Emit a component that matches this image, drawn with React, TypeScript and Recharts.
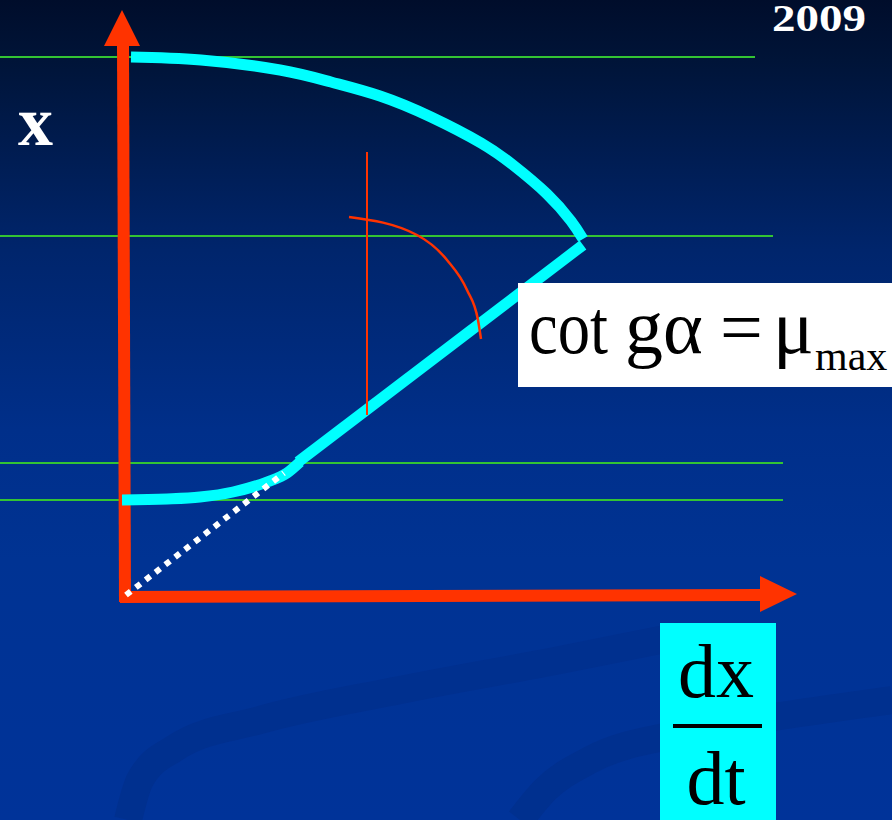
import React from "react";
import { ComposedChart, Line, Scatter, XAxis, YAxis } from "recharts";

// Phase-plane sketch: x against dx/dt, origin at the corner of the axes.
const upperArc = [
  { x: 7, y: 540 },
  { x: 77, y: 537 },
  { x: 156, y: 527 },
  { x: 207, y: 515 },
  { x: 256, y: 501 },
  { x: 307, y: 480 },
  { x: 357, y: 454 },
  { x: 389, y: 432 },
  { x: 423, y: 403 },
  { x: 447, y: 376 },
  { x: 459, y: 358 },
];
const tangentSegment = [
  { x: 174, y: 135 },
  { x: 459, y: 352 },
];
const lowerArc = [
  { x: -2, y: 97 },
  { x: 43, y: 98 },
  { x: 76, y: 100 },
  { x: 109, y: 105 },
  { x: 143, y: 115 },
  { x: 163, y: 124 },
  { x: 176, y: 135 },
];
const tangentToOrigin = [
  { x: 2, y: 2 },
  { x: 160, y: 124 },
];
const levelLines = [
  [{ x: -130, y: 540 }, { x: 631, y: 540 }],
  [{ x: -130, y: 361 }, { x: 649, y: 361 }],
  [{ x: -130, y: 134 }, { x: 659, y: 134 }],
  [{ x: -130, y: 97 }, { x: 659, y: 97 }],
];
const verticalAxis = [
  { x: 1, y: -5 },
  { x: -1, y: 552 },
];
const horizontalAxis = [
  { x: -4, y: 0 },
  { x: 636, y: 2 },
];
const arrowTips = [
  { x: -2, y: 587, dir: "up" },
  { x: 673, y: 3, dir: "right" },
];
const angleMarker = [
  { x: 243, y: 445 },
  { x: 243, y: 182 },
];
const angleArc = [
  { x: 225, y: 380 },
  { x: 293, y: 362 },
  { x: 323, y: 337 },
  { x: 343, y: 307 },
  { x: 354, y: 277 },
  { x: 357, y: 258 },
];
const swooshA = [
  { x: 4, y: -223 },
  { x: 16, y: -183 },
  { x: 51, y: -151 },
  { x: 136, y: -123 },
  { x: 276, y: -93 },
  { x: 436, y: -63 },
  { x: 556, y: -39 },
];
const swooshB = [
  { x: 396, y: -223 },
  { x: 421, y: -193 },
  { x: 466, y: -163 },
  { x: 559, y: -136 },
  { x: 676, y: -116 },
  { x: 768, y: -103 },
];

const axisLabel = "x";
const yearLabel = "2009";
const fracTop = "dx";
const fracBottom = "dt";

const RED = "#ff3300";
const CYAN = "#00ffff";
const GREEN = "#33c433";
const SERIF = "'Liberation Serif', 'Times New Roman', serif";

const ArrowHead = (props: any) => {
  const { cx, cy, payload } = props;
  if (cx == null || cy == null) return null;
  const pts =
    payload.dir === "up"
      ? `${cx},${cy} ${cx - 18},${cy + 36} ${cx + 18},${cy + 36}`
      : `${cx},${cy} ${cx - 37},${cy - 18} ${cx - 37},${cy + 18}`;
  return <polygon points={pts} fill={RED} />;
};

const lineProps = { dot: false, activeDot: false, isAnimationActive: false } as const;

const Annotations = () => (
  <svg
    width={892}
    height={820}
    style={{ position: "absolute", left: 0, top: 0, pointerEvents: "none" }}
  >
    <text x={18} y={145} fontFamily={SERIF} fontWeight="bold" fontSize={70} fill="#ffffff">
      {axisLabel}
    </text>
    <text
      x={772}
      y={31}
      fontFamily={SERIF}
      fontWeight="bold"
      fontSize={37}
      textLength={94}
      lengthAdjust="spacingAndGlyphs"
      fill="#ffffff"
    >
      {yearLabel}
    </text>
    <rect x={518} y={283} width={374} height={104} fill="#ffffff" />
    <text fontFamily={SERIF} fill="#000000">
      <tspan x={529} y={353} fontSize={76} textLength={79} lengthAdjust="spacingAndGlyphs">cot</tspan>
      <tspan x={625} y={353} fontSize={76}>gα</tspan>
      <tspan x={720} y={353} fontSize={76}>=</tspan>
      <tspan x={773} y={353} fontSize={76}>μ</tspan>
      <tspan x={815} y={370} fontSize={42}>max</tspan>
    </text>
    <rect x={660} y={623} width={116} height={197} fill={CYAN} />
    <text x={716} y={697} textAnchor="middle" fontFamily={SERIF} fontSize={76} fill="#000000">
      {fracTop}
    </text>
    <rect x={673} y={724} width={89} height={4} fill="#000000" />
    <text x={716} y={804} textAnchor="middle" fontFamily={SERIF} fontSize={76} fill="#000000">
      {fracBottom}
    </text>
  </svg>
);

export default function App() {
  return (
    <div
      style={{
        position: "absolute",
        left: 0,
        top: 0,
        width: 892,
        height: 820,
        overflow: "hidden",
        background:
          "linear-gradient(to bottom, #000d2b 0px, #001438 60px, #00256c 250px, #002f8a 430px, #003393 560px, #003399 820px)",
      }}
    >
      <ComposedChart width={892} height={820} margin={{ top: 0, right: 0, bottom: 0, left: 0 }}>
        <XAxis type="number" dataKey="x" domain={[-124, 768]} hide allowDataOverflow />
        <YAxis type="number" dataKey="y" domain={[-223, 597]} hide allowDataOverflow />

        <Line data={swooshA} dataKey="y" type="monotone" stroke="#00308f" strokeWidth={28} {...lineProps} />
        <Line data={swooshB} dataKey="y" type="monotone" stroke="#00308f" strokeWidth={28} {...lineProps} />

        {levelLines.map((seg, i) => (
          <Line key={`lvl${i}`} data={seg} dataKey="y" type="linear" stroke={GREEN} strokeWidth={2} {...lineProps} />
        ))}

        <Line data={verticalAxis} dataKey="y" type="linear" stroke={RED} strokeWidth={12} {...lineProps} />
        <Line data={horizontalAxis} dataKey="y" type="linear" stroke={RED} strokeWidth={12} {...lineProps} />

        <Line data={upperArc} dataKey="y" type="natural" stroke={CYAN} strokeWidth={11} {...lineProps} />
        <Line data={tangentSegment} dataKey="y" type="linear" stroke={CYAN} strokeWidth={11} {...lineProps} />
        <Line data={lowerArc} dataKey="y" type="monotone" stroke={CYAN} strokeWidth={11} {...lineProps} />

        <Line data={tangentToOrigin} dataKey="y" type="linear" stroke="#ffffff" strokeWidth={6} strokeDasharray="6 6.4" {...lineProps} />

        <Line data={angleMarker} dataKey="y" type="linear" stroke={RED} strokeWidth={2} {...lineProps} />
        <Line data={angleArc} dataKey="y" type="monotone" stroke={RED} strokeWidth={2.5} {...lineProps} />

        <Scatter data={arrowTips} dataKey="y" shape={<ArrowHead />} isAnimationActive={false} />
      </ComposedChart>
      <Annotations />
    </div>
  );
}
